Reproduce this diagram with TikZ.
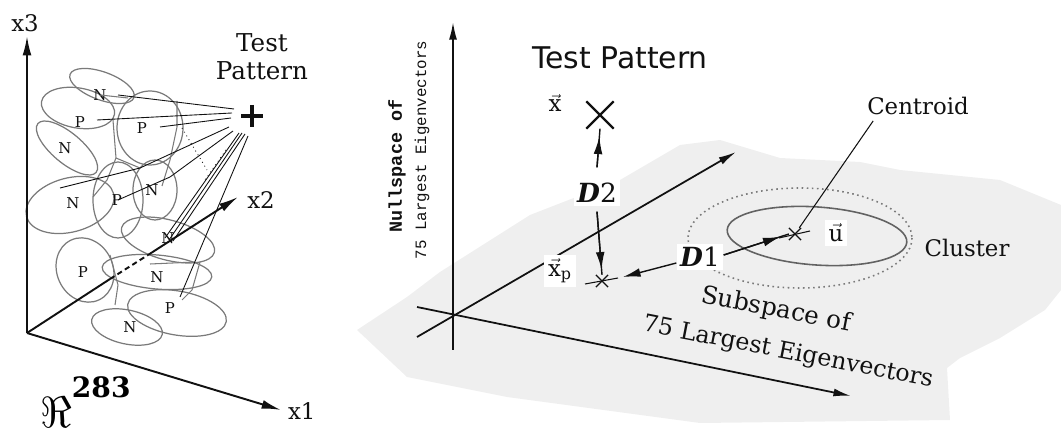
\documentclass[tikz,border=0pt]{standalone}
\usepackage{fontspec}
\setmainfont{DejaVu Serif}
\newfontfamily\axfont{Liberation Mono}
\newfontfamily\tpfont{DejaVu Sans}
\usetikzlibrary{arrows.meta,shapes.misc}
\definecolor{ink}{HTML}{111111}
\definecolor{rim}{HTML}{7A7A7A}
\definecolor{plane}{HTML}{EFEFEF}
\tikzset{
  axis/.style={line width=1.1pt,ink,-{Latex[length=11pt,width=5pt]}},
  raxis/.style={line width=1pt,ink,-{Latex[length=10pt,width=4.5pt]}},
  blob/.style={draw=rim,line width=0.7pt},
  ray/.style={ink,line width=0.5pt},
  mesh/.style={rim,line width=0.6pt},
  cls/.style={font=\fontsize{8.5}{9}\selectfont,text=ink,inner sep=0pt},
  lbl/.style={font=\fontsize{13}{15}\selectfont,text=ink,inner sep=1pt},
  tag/.style={fill=white,inner sep=2pt,text=ink},
  dline/.style={line width=0.8pt,ink},
  dist/.style={line width=0.8pt,ink,-{Latex[length=10pt,width=5pt]}},
  hit/.style={cross out,draw=ink,line width=0.7pt,minimum size=0.22cm,inner sep=0pt}
}
\begin{document}
\begin{tikzpicture}[x=0.02cm,y=-0.02cm]
\useasboundingbox (0,0) rectangle (1061,428);
% ================= left: the raw space =================
\coordinate (O) at (27,333);
\coordinate (x3e) at (27,36);
\coordinate (x1e) at (281,410);
\coordinate (x2a) at (110,279);
\coordinate (x2b) at (148,255);
\coordinate (x2e) at (238,197);
% clusters, N and P
\foreach \c/\rx/\ry/\a in {(102,86)/34/14/-20, (78,108)/37/20/-10, (150,128)/33/37/0,
  (67,148)/38/15/-40, (155,190)/22/30/0, (70,205)/45/27/15, (118,200)/25/38/0,
  (168,240)/48/20/-15, (85,270)/28/33/25, (157,272)/55/17/-5, (177,313)/50/22/-10,
  (127,327)/36/17/-12}
  {\draw[blob,rotate around={\a:\c}] \c ellipse [x radius=\rx, y radius=\ry];}
\foreach \p/\t in {(100,95)/N, (80,122)/P, (142,128)/P, (65,148)/N, (152,190)/N,
  (73,203)/N, (117,200)/P, (168,238)/N, (83,272)/P, (157,277)/N, (170,308)/P, (130,327)/N}
  {\node[cls] at \p {\t};}
\draw[mesh] (113,120) -- (116,158) -- (107,180) -- (93,197);
\draw[mesh] (177,101) -- (177,127) -- (170,160) -- (162,186);
\draw[mesh] (100,95) -- (128,98);
\draw[mesh] (116,158) -- (140,168);
\draw[mesh] (110,255) -- (118,285) -- (115,305);
\draw[mesh] (200,262) -- (192,290) -- (182,300);
\draw[mesh] (150,264) -- (195,262);
% the test pattern and its rays
\coordinate (tp) at (252,116);
\draw[line width=1.8pt,ink] (241,116) -- (263,116) (252,105) -- (252,127);
\node[lbl,align=center,font=\fontsize{14}{16}\selectfont] (tplabel) at (262,57) {Test\\Pattern};
\draw[ray] (234,109) -- (118,95);
\draw[ray] (232,113) -- (97,120);
\draw[ray] (231,118) -- (160,127);
\draw[ray] (229,127) -- (140,168) -- (60,188);
\draw[ray] (233,131) -- (170,177) -- (118,200);
\draw[ray] (239,133) -- (165,238);
\draw[ray] (242,133) -- (169,240);
\draw[ray] (245,134) -- (173,241);
\draw[ray] (248,136) -- (180,297);
\draw[ray,dotted] (182,128) -- (207,170);
\draw[ray,dotted] (226,150) -- (205,180);
% axes
\draw[axis] (O) -- (x3e);
\draw[axis] (O) -- (x1e);
\draw[line width=1.1pt,ink] (O) -- (x2a);
\draw[line width=1.1pt,ink,densely dashed] (x2a) -- (x2b);
\draw[axis] (x2b) -- (x2e);
\node[lbl] (lx3) at (25,23) {x3};
\node[lbl] (lx2) at (261,200) {x2};
\node[lbl,anchor=west] (lx1) at (286,411) {x1};
\node[inner sep=0pt,anchor=south west] (space) at (40,428)
  {\fontsize{30}{30}\selectfont$\Re$\raisebox{17pt}{\fontsize{16}{16}\selectfont\bfseries 283}};
% ================= right: subspace picture =================
\fill[plane] (357,330) -- (407,297) -- (440,272) -- (530,215) -- (620,180) -- (680,145)
  -- (720,140) -- (780,158) -- (860,162) -- (900,170) -- (1000,180) -- (1061,205)
  -- (1061,290) -- (1045,310) -- (1000,338) -- (960,358) -- (947,368) -- (950,420)
  -- (700,423) -- (507,397) -- (407,377) -- cycle;
\coordinate (R) at (453,315);
\coordinate (nulle) at (453,22);
\coordinate (nulls) at (453,350);
\coordinate (d1s) at (417,337);
\coordinate (d1e) at (736,152);
\coordinate (d2s) at (417,307);
\coordinate (d2e) at (851,396);
\draw[raxis] (nulls) -- (nulle);
\draw[raxis] (d1s) -- (d1e);
\draw[raxis] (d2s) -- (d2e);
\node[rotate=90,text=ink,inner sep=0pt,font=\axfont\bfseries\fontsize{10.5}{12}\selectfont] (null1) at (397,166) {Nullspace of};
\node[rotate=90,text=ink,inner sep=0pt,font=\axfont\fontsize{9}{12}\selectfont] (null2) at (422,150) {75 Largest Eigenvectors};
\node[text=ink,inner sep=0pt,font=\fontsize{14}{16}\selectfont,rotate=-11] (sub1) at (776,310) {Subspace of};
\node[text=ink,inner sep=0pt,font=\fontsize{13.5}{16}\selectfont,rotate=-11] (sub2) at (788,353) {75 Largest Eigenvectors};
% cluster
\draw[rim,dotted,line width=0.9pt] (800,238) ellipse [x radius=112, y radius=50];
\draw[rim!80!black,line width=0.9pt,rotate around={-4:(817,236)}] (817,236) ellipse [x radius=90, y radius=29];
\node[lbl] (clab) at (967,248) {Cluster};
\node[lbl] (cent) at (918,106) {Centroid};
\node[hit] (mu) at (795,234) {};
\draw[ink,line width=0.6pt] (779,238) -- (810,231);
\draw[ink,line width=0.6pt] (cent.south west) ++(8,4) -- (mu);
\node[tag,font=\fontsize{13}{14}\selectfont] (mulab) at (836,233) {$\vec{\mathrm{u}}$};
% test pattern and its projection
\node[cross out,draw=ink,line width=1.3pt,minimum size=0.5cm,inner sep=0pt] (xt) at (600,115) {};
\node[text=ink,font=\tpfont\fontsize{17}{18}\selectfont] (tptitle) at (620,58) {Test Pattern};
\node[font=\fontsize{13}{14}\selectfont,text=ink] (xlab) at (555,103) {$\vec{\mathrm{x}}$};
\node[hit] (xp) at (602,281) {};
\draw[ink,line width=0.6pt] (585,284) -- (618,278);
\node[tag,font=\fontsize{13}{14}\selectfont] (xplab) at (560,271) {$\vec{\mathrm{x}}_{\mathrm{p}}$};
\node[tag,font=\fontsize{15}{16}\selectfont] (D2) at (597,193) {\textbf{\textit{D}}2};
\node[tag,font=\fontsize{15}{16}\selectfont] (D1) at (700,257) {\textbf{\textit{D}}1};
% distances, heads set back from the ends as drawn
\draw[dline] (D2.north) ++(0,-12) -- (xt.south);
\draw[dist,shorten >=4.5pt] (D2.north) ++(0,-12) -- (xt.south);
\draw[dline] (D2.south) ++(0,5) -- (xp.north);
\draw[dist,shorten >=3pt] (D2.south) ++(0,5) -- (xp.north);
\draw[dist] (D1.west) ++(0,6) -- (623,277);
\draw[dline] (D1.east) ++(0,-2) -- (mu.west);
\draw[dist,shorten >=5pt] (D1.east) ++(0,-2) -- (mu.west);
\end{tikzpicture}
\end{document}
